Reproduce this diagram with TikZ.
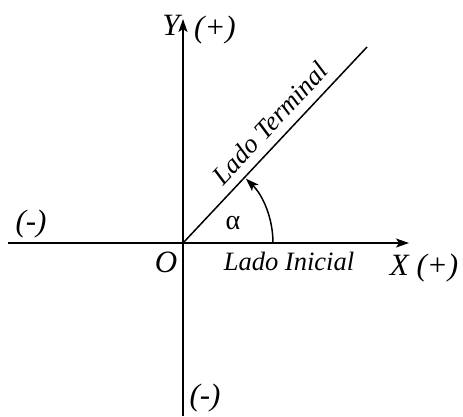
\documentclass[tikz,border=0pt]{standalone}
\usepackage{fontspec}
\setmainfont{Liberation Serif}
\usetikzlibrary{arrows.meta,calc}
\begin{document}
\begin{tikzpicture}[x=1pt,y=-1pt,
  tip/.style={-{Stealth[length=13pt,width=9pt,inset=3pt]}},
  axis/.style={line width=1.5pt,tip},
  lbl/.style={font=\fontsize{31}{34}\selectfont\itshape, inner sep=0pt, anchor=base},
  lado/.style={font=\fontsize{26.5}{30}\selectfont\itshape, inner sep=0pt}]
\useasboundingbox (0,0) rectangle (463,416);
\coordinate (O) at (183,243);
\coordinate (xl) at (8,243);
\coordinate (xr) at (409,243);
\coordinate (yb) at (183,416);
\coordinate (yt) at (183,19);
\coordinate (T) at (367,47);
\draw[axis] (xl) -- (xr);
\draw[axis] (yb) -- (yt);
\draw[line width=1.5pt] (O) -- (T);
\draw[line width=1.5pt,tip] (273,243) arc[start angle=0,end angle=-45.6,radius=90];
\node[lbl] (ylab) at (171,35) {Y};
\node[lbl] (yplus) at (215,37) {(+)};
\node[lbl] (xminus) at (31,231) {(-)};
\node[lbl] (olab) at (166,272) {O};
\node[lado, anchor=base] (ini) at (289,270) {Lado Inicial};
\node[lbl] (xlab) at (424,275) {X (+)};
\node[lbl] (yminus) at (205,405) {(-)};
\node[font=\fontsize{28}{30}\selectfont, inner sep=0pt] (alpha) at (233,223) {α};
\node[lado, rotate=46.8] (term) at (270,123) {Lado Terminal};
\end{tikzpicture}
\end{document}
